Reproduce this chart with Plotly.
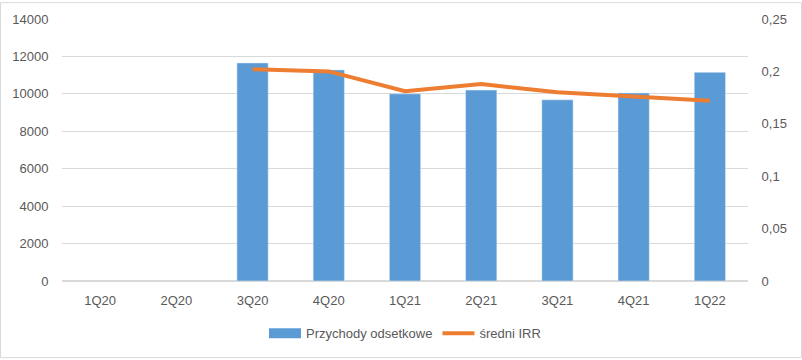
import plotly.graph_objects as go

categories = ["1Q20", "2Q20", "3Q20", "4Q20", "1Q21", "2Q21", "3Q21", "4Q21", "1Q22"]
przychody = [None, None, 11650, 11280, 10000, 10200, 9680, 10050, 11150]
irr = [None, None, 0.202, 0.200, 0.181, 0.188, 0.180, 0.176, 0.172]
left_ticks = [0, 2000, 4000, 6000, 8000, 10000, 12000, 14000]
right_ticks = [0, 0.05, 0.1, 0.15, 0.2, 0.25]

W, H = 802, 360
ml, mr, mt, mb = 62, 54, 17, 78
pw, ph = W - ml - mr, H - mt - mb
blue, orange = "#5B9BD5", "#ED7D31"

fig = go.Figure()
fig.add_trace(go.Bar(x=categories, y=przychody, name="Przychody odsetkowe",
                     marker_color=blue, width=0.41, yaxis="y", showlegend=False))
# legend-only entry to mimic the wide rectangular legend key
fig.add_trace(go.Scatter(x=[None], y=[None], name="Przychody odsetkowe", mode="lines",
                         line=dict(color=blue, width=10), yaxis="y"))
fig.add_trace(go.Scatter(x=categories, y=irr, name="średni IRR", mode="lines",
                         line=dict(color=orange, width=4), yaxis="y2"))

font = dict(family="Liberation Sans, Arial, sans-serif", size=13, color="#595959")
fig.update_layout(
    width=W, height=H,
    margin=dict(l=ml, r=mr, t=mt, b=mb),
    paper_bgcolor="white", plot_bgcolor="white",
    font=font,
    separators=",.",
    showlegend=True,
    legend=dict(orientation="h", x=0.5, xanchor="center", y=-0.2, yanchor="middle",
                font=font, traceorder="normal", itemwidth=32),
    xaxis=dict(type="category", showgrid=False, ticks="outside", ticklen=7,
               tickcolor="rgba(0,0,0,0)", showline=False, tickfont=font),
    yaxis=dict(range=[0, 14000], tickvals=left_ticks, tickformat="d",
               gridcolor="#D9D9D9", zeroline=True, zerolinecolor="#D9D9D9",
               ticks="outside", ticklen=10, tickcolor="rgba(0,0,0,0)", tickfont=font),
    yaxis2=dict(range=[0, 0.25], tickvals=right_ticks, overlaying="y", side="right",
                showgrid=False, zeroline=False, ticks="outside", ticklen=10,
                tickcolor="rgba(0,0,0,0)", tickfont=font),
    bargap=0.59,
)
fig.add_shape(type="rect", xref="paper", yref="paper",
              x0=(0.5 - ml) / pw, x1=(W - 0.5 - ml) / pw,
              y0=(mt + ph - (H - 0.5)) / ph, y1=(mt + ph - 0.5) / ph,
              line=dict(color="#D9D9D9", width=1), fillcolor="rgba(0,0,0,0)", layer="below")

fig.write_html("out.html", config={"displayModeBar": False},
               post_script="document.body.style.margin='0';")
